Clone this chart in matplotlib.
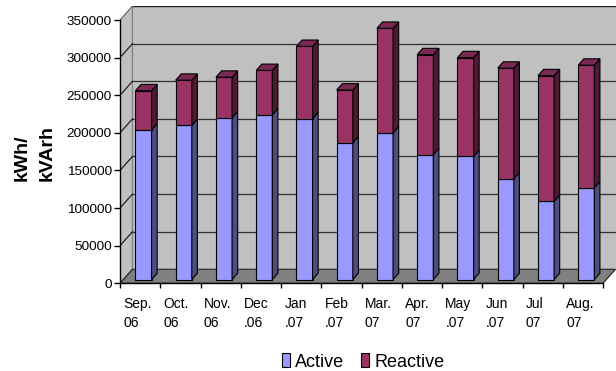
import matplotlib
matplotlib.use("Agg")
import matplotlib.pyplot as plt
from matplotlib.patches import Polygon, Patch
from matplotlib import transforms

plt.rcParams['font.family'] = ['Liberation Sans', 'DejaVu Sans']

# Monthly consumption
months = ["Sep.\n06", "Oct.\n06", "Nov.\n06", "Dec\n.06", "Jan\n.07", "Feb\n.07",
          "Mar.\n07", "Apr.\n07", "May\n.07", "Jun\n.07", "Jul\n07", "Aug.\n07"]
active = [199000, 205000, 215000, 219000, 214000, 182000,
          195000, 166000, 164000, 134000, 104000, 122000]
reactive = [52000, 60000, 54000, 59000, 96000, 70000,
            139000, 133000, 131000, 147000, 167000, 163000]
y_ticks = [0, 50000, 100000, 150000, 200000, 250000, 300000, 350000]
series_names = ["Active", "Reactive"]

# oblique projection: depth shifts right (category units) and up (value units)
DX = 0.31
DY = 18610
YMAX = 350000
N = len(months)
F0, F1 = 0.27, 0.72     # front / back depth of the columns
HW = 0.2                # half column width

front_cols = {"Active": "#9999FF", "Reactive": "#993366"}
side_cols = {"Active": "#4D4D80", "Reactive": "#4D1A33"}
top_cols = {"Active": "#7A7ACC", "Reactive": "#7A2952"}

fig = plt.figure(figsize=(6.16, 3.71), dpi=100)
ax = fig.add_axes([0.1948, 0.2364, 0.8044, 0.7474])
ax.set_xlim(-0.5, N - 0.5 + DX)
ax.set_ylim(0, YMAX + DY)

wall = "#C0C0C0"
# side wall
ax.add_patch(Polygon([(-0.5, 0), (-0.5 + DX, DY), (-0.5 + DX, YMAX + DY), (-0.5, YMAX)],
                     closed=True, facecolor=wall, edgecolor="#606060", lw=0.8, zorder=1))
# back wall
ax.add_patch(Polygon([(-0.5 + DX, DY), (N - 0.5 + DX, DY), (N - 0.5 + DX, YMAX + DY),
                      (-0.5 + DX, YMAX + DY)],
                     closed=True, facecolor=wall, edgecolor="none", lw=0, zorder=1))
ax.plot([-0.5 + DX, N - 0.5 + DX], [YMAX + DY, YMAX + DY], color="#202020", lw=1.0, zorder=2)
ax.plot([-0.5 + DX, -0.5 + DX], [DY, YMAX + DY], color="#808080", lw=0.8, zorder=2)

# gridlines on walls
for v in y_ticks[1:-1]:
    ax.plot([-0.5, -0.5 + DX], [v, v + DY], color="#202020", lw=0.9, zorder=2)
    ax.plot([-0.5 + DX, N - 0.5 + DX], [v + DY, v + DY], color="#303030", lw=0.9, zorder=2)

# floor
ax.add_patch(Polygon([(-0.5, 0), (N - 0.5, 0), (N - 0.5 + DX, DY), (-0.5 + DX, DY)],
                     closed=True, facecolor="#808080", edgecolor="#202020", lw=0.8, zorder=3))


def column_segment(i, y0, y1, name, draw_top):
    x0 = i - HW + F0 * DX
    x1 = i + HW + F0 * DX
    b = y0 + F0 * DY
    t = y1 + F0 * DY
    ddx = (F1 - F0) * DX
    ddy = (F1 - F0) * DY
    kw = dict(closed=True, edgecolor="black", lw=0.8, zorder=5)
    ax.add_patch(Polygon([(x0, b), (x1, b), (x1, t), (x0, t)], facecolor=front_cols[name], **kw))
    ax.add_patch(Polygon([(x1, b), (x1 + ddx, b + ddy), (x1 + ddx, t + ddy), (x1, t)],
                         facecolor=side_cols[name], **kw))
    if draw_top:
        ax.add_patch(Polygon([(x0, t), (x1, t), (x1 + ddx, t + ddy), (x0 + ddx, t + ddy)],
                             facecolor=top_cols[name], **kw))


for i in range(N):
    column_segment(i, 0, active[i], "Active", False)
    column_segment(i, active[i], active[i] + reactive[i], "Reactive", True)

# axes lines and ticks
for s in ("top", "right"):
    ax.spines[s].set_visible(False)
ax.spines["left"].set_bounds(0, YMAX)
ax.spines["bottom"].set_bounds(-0.5, N - 0.5)
for s in ("left", "bottom"):
    ax.spines[s].set_color("black")
    ax.spines[s].set_linewidth(1.0)
    ax.spines[s].set_zorder(6)

ax.set_yticks(y_ticks)
ax.set_yticklabels([str(v) for v in y_ticks], fontsize=9.7)
ax.tick_params(axis="y", direction="out", length=4, width=1.0, pad=2)
ax.set_xticks([k - 0.5 for k in range(N + 1)])
ax.set_xticklabels([])
ax.tick_params(axis="x", direction="out", length=3.6, width=1.0)

# category labels, left aligned inside each category slot
trans = transforms.blended_transform_factory(ax.transData, ax.transAxes) + \
    transforms.ScaledTranslation(0, -14 / 100, fig.dpi_scale_trans)
for i, lab in enumerate(months):
    ax.text(i - 0.5 + 0.082, 0, lab, transform=trans, ha="left", va="top",
            fontsize=10, linespacing=1.45, multialignment="left")

fig.text(35 / 616, 1 - 153 / 371, "kWh/\nkVArh", rotation=90, ha="center", va="center",
         fontsize=14, fontweight="bold", multialignment="left", linespacing=1.6)

handles = [Patch(facecolor=front_cols[n], edgecolor="black", lw=0.8) for n in series_names]
fig.legend(handles, series_names, loc="center", bbox_to_anchor=(363 / 616, 1 - 362 / 371),
           ncol=2, frameon=False, fontsize=13, handlelength=0.45, handleheight=0.8,
           handletextpad=0.3, columnspacing=0.9, borderpad=0)

fig.savefig("out.png", dpi=100)
